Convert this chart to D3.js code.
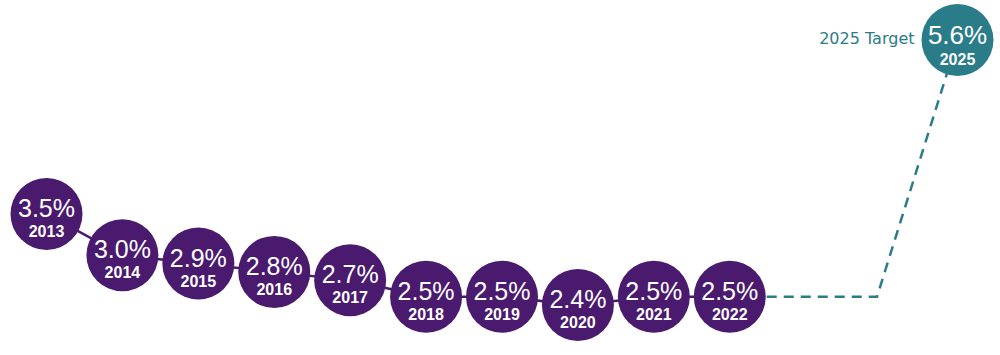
<!DOCTYPE html>
<html>
<head>
<meta charset="utf-8">
<script src="https://cdn.jsdelivr.net/npm/d3@7"></script>
<style>
  html, body { margin: 0; padding: 0; background: #ffffff; }
  svg { display: block; }
</style>
</head>
<body>
<svg id="chart" width="1000" height="355"></svg>
<script>
// ---- data ----
const years = [2013, 2014, 2015, 2016, 2017, 2018, 2019, 2020, 2021, 2022];
const values = [3.5, 3.0, 2.9, 2.8, 2.7, 2.5, 2.5, 2.4, 2.5, 2.5];
const targetYear = 2025;
const targetValue = 5.6;
const targetLabel = "2025 Target";

// ---- styles ----
const purple = "#4a1a6e";
const teal = "#2b7c89";
const r = 36;

const svg = d3.select("#chart");

const x = d3.scaleLinear().domain([2013, 2025]).range([46.5, 957.5]);
const y = d3.scaleLinear().domain([2.4, 5.6]).range([305, 40]);

const pts = years.map((yr, i) => ({ year: yr, value: values[i] }));
const last = pts[pts.length - 1];

// dashed connector to target
const cornerX = 877;
svg.append("path")
  .attr("d", `M${x(last.year)},${y(last.value)} L${cornerX},${y(last.value)} L${x(targetYear)},${y(targetValue)}`)
  .attr("fill", "none")
  .attr("stroke", teal)
  .attr("stroke-width", 2.5)
  .attr("stroke-dasharray", "10,7")
  .attr("stroke-dashoffset", -r - 1);

// solid purple connector
svg.append("path")
  .datum(pts)
  .attr("d", d3.line().x(d => x(d.year)).y(d => y(d.value)))
  .attr("fill", "none")
  .attr("stroke", purple)
  .attr("stroke-width", 2.5);

const pctFont = "'Liberation Sans', Arial, sans-serif";

// circles
const g = svg.selectAll("g.pt")
  .data(pts)
  .join("g")
  .attr("class", "pt")
  .attr("transform", d => `translate(${x(d.year)},${y(d.value)})`);

g.append("circle").attr("r", r).attr("fill", purple);
g.append("text")
  .attr("text-anchor", "middle")
  .attr("y", 3)
  .attr("fill", "#ffffff")
  .style("font-family", pctFont)
  .style("font-weight", 400)
  .style("font-size", "25px")
  .text(d => d.value.toFixed(1) + "%");
g.append("text")
  .attr("text-anchor", "middle")
  .attr("y", 23)
  .attr("fill", "#ffffff")
  .style("font-family", "'Liberation Sans', Arial, sans-serif")
  .style("font-weight", 700)
  .style("font-size", "16px")
  .text(d => d.year);

// target
const tg = svg.append("g")
  .attr("transform", `translate(${x(targetYear)},${y(targetValue)})`);
tg.append("circle").attr("r", r).attr("fill", teal);
tg.append("text")
  .attr("text-anchor", "middle")
  .attr("y", 4)
  .attr("fill", "#ffffff")
  .style("font-family", pctFont)
  .style("font-weight", 400)
  .style("font-size", "26px")
  .text(targetValue.toFixed(1) + "%");
tg.append("text")
  .attr("text-anchor", "middle")
  .attr("y", 25)
  .attr("fill", "#ffffff")
  .style("font-family", "'Liberation Sans', Arial, sans-serif")
  .style("font-weight", 700)
  .style("font-size", "16px")
  .text(targetYear);

svg.append("text")
  .attr("x", x(targetYear) - r - 7)
  .attr("y", y(targetValue) + 4)
  .attr("text-anchor", "end")
  .attr("fill", teal)
  .style("font-family", "'DejaVu Sans', sans-serif")
  .style("font-size", "16px")
  .text(targetLabel);
</script>
</body>
</html>
